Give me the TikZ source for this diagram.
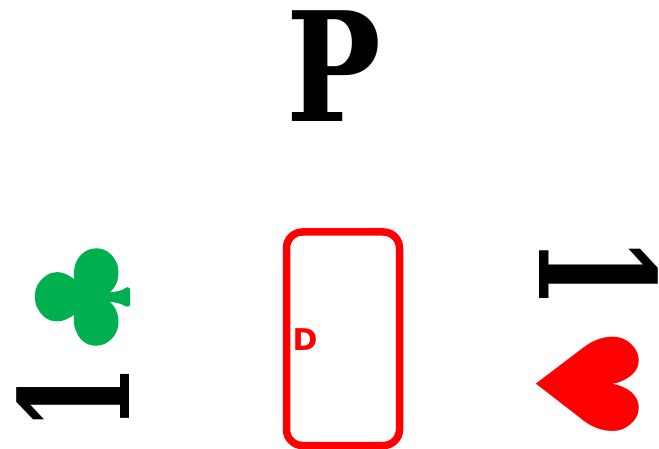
\documentclass[tikz,border=0pt]{standalone}
\usepackage{fontspec}
\setmainfont{DejaVu Serif}
\newfontfamily\suitfont{DejaVu Sans}
\definecolor{clubgreen}{HTML}{00B050}
\newcommand{\fatglyph}[2]{\special{pdf:code 2 Tr #1 w 1 j}#2\special{pdf:code 0 Tr}}
\tikzset{
  bigtext/.style={inner sep=0pt,outer sep=0pt,font=\fontsize{152}{152}\selectfont\bfseries,text=black},
  bigtextlarge/.style={bigtext,font=\fontsize{160}{160}\selectfont\bfseries},
  suit/.style={inner sep=0pt,outer sep=0pt,font=\fontsize{141}{141}\suitfont},
  seat/.style={draw=red,line width=7.5pt,rounded corners=16pt}
}
\begin{document}
\begin{tikzpicture}[x=1pt,y=-1pt]
\useasboundingbox (0,0) rectangle (659,449);
\node[bigtext,xscale=.83] (north) at (334,66.5) {P};
\node[bigtext,rotate=90,xscale=.63] (westnum) at (73,398.5) {1};
\node[bigtextlarge,rotate=-90,xscale=.65] (eastnum) at (599,272.5) {1};
\node[suit,font=\fontsize{124}{124}\suitfont,text=clubgreen,rotate=90,xscale=1.1] (club) at (82.5,297) {\fatglyph{5}{♣}};
\node[suit,text=red,rotate=-90,xscale=.93] (heart) at (588,384) {♥};
\draw[seat] (286.5,232) rectangle (399.5,445.5);
\node[inner sep=0pt,text=red,font=\fontsize{30}{30}\suitfont\bfseries] (dealer) at (305,340) {D};
\end{tikzpicture}
\end{document}
